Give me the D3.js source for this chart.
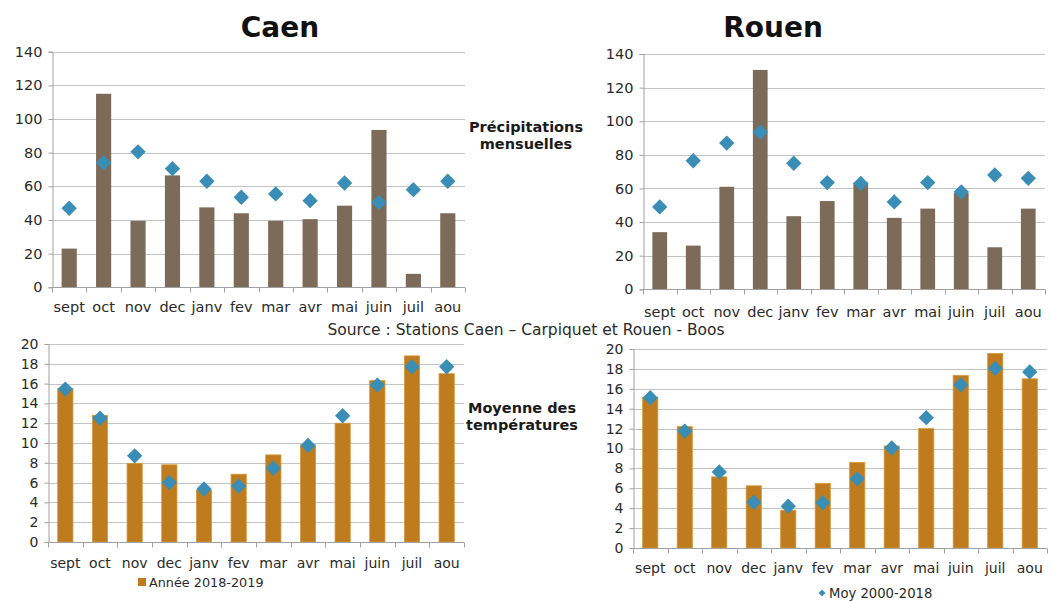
<!DOCTYPE html>
<html>
<head>
<meta charset="utf-8">
<script src="https://cdn.jsdelivr.net/npm/d3@7"></script>
<style>
  html, body { margin: 0; padding: 0; background: #fff; }
  svg { display: block; }
  text { font-family: "DejaVu Sans", Verdana, sans-serif; fill: #2a2a2a; }
</style>
</head>
<body>
<svg id="chart" width="1050" height="601"></svg>
<script>
// Months of the hydrological year (September to August)
const months = ["sept", "oct", "nov", "dec", "janv", "fev", "mar", "avr", "mai", "juin", "juil", "aou"];

// Monthly precipitation (mm)
const caenPrecip2018 = [23, 115, 39.5, 66.5, 47.5, 44, 39.5, 40.5, 48.5, 93.5, 8, 44];
const caenPrecipMoy  = [47, 74, 80.5, 70.5, 63, 53.5, 55.5, 51.5, 62, 50.5, 58, 63];
const rouenPrecip2018 = [34, 26, 61, 130.5, 43.5, 52.5, 63.5, 42.5, 48, 57.5, 25, 48];
const rouenPrecipMoy  = [49, 76.5, 87, 93.5, 75, 63.5, 63, 52, 63.5, 58, 68, 66];

// Monthly mean temperature (°C)
const caenTemp2018 = [15.5, 12.8, 7.95, 7.8, 5.25, 6.85, 8.8, 9.8, 12, 16.3, 18.8, 17];
const caenTempMoy  = [15.45, 12.5, 8.7, 6, 5.35, 5.65, 7.45, 9.75, 12.75, 15.85, 17.7, 17.7];
const rouenTemp2018 = [15.15, 12.2, 7.15, 6.25, 3.8, 6.5, 8.6, 10.25, 12, 17.35, 19.55, 17];
const rouenTempMoy  = [15.1, 11.75, 7.65, 4.6, 4.2, 4.55, 6.95, 10.05, 13.1, 16.4, 18.05, 17.7];

// Axis ticks
const precipTicks = [0, 20, 40, 60, 80, 100, 120, 140];
const tempTicks = [0, 2, 4, 6, 8, 10, 12, 14, 16, 18, 20];

// Labels
const cityTitles = ["Caen", "Rouen"];
const precipLabel = ["Précipitations", "mensuelles"];
const tempLabel = ["Moyenne des", "températures"];
const sourceText = "Source :  Stations Caen – Carpiquet et Rouen - Boos";
const legendBar = "Année 2018-2019";
const legendMoy = "Moy 2000-2018";

const colors = {
  precipBar: "#7d6b5a",
  tempBar: "#bf7c1e",
  tempBarEdge: "#d79a3c",
  diamond: "#3a8db5",
  grid: "#c4c4c4",
  axis: "#a0a0a0"
};

const svg = d3.select("#chart");

function drawPanel(cfg) {
  const g = svg.append("g");
  const x = d3.scaleBand().domain(months).range([cfg.x0, cfg.x1]).paddingInner(0.56).paddingOuter(0.28);
  const y = d3.scaleLinear().domain([0, cfg.max]).range([cfg.yb, cfg.yt]);

  // horizontal gridlines
  g.selectAll("line.grid").data(cfg.ticks.filter(d => d > 0)).join("line")
    .attr("x1", cfg.x0).attr("x2", cfg.x1)
    .attr("y1", d => Math.round(y(d)) + 0.5).attr("y2", d => Math.round(y(d)) + 0.5)
    .attr("stroke", colors.grid).attr("stroke-width", 1.2);

  // y axis
  const yAxis = d3.axisLeft(y).tickValues(cfg.ticks).tickSize(4).tickPadding(6);
  const ya = g.append("g").attr("transform", `translate(${Math.round(cfg.x0) + 0.5},0)`).call(yAxis);
  ya.select(".domain").attr("stroke", colors.axis);
  ya.selectAll(".tick line").attr("stroke", colors.axis);
  ya.selectAll(".tick text").attr("font-size", cfg.fs).attr("fill", "#2a2a2a")
    .attr("font-family", '"DejaVu Sans", Verdana, sans-serif');

  // bars
  g.selectAll("rect.bar").data(cfg.bars).join("rect")
    .attr("x", (d, i) => x(months[i]))
    .attr("width", x.bandwidth())
    .attr("y", d => y(d))
    .attr("height", d => y(0) - y(d))
    .attr("fill", cfg.barColor)
    .attr("stroke", cfg.barEdge || "none")
    .attr("stroke-width", cfg.barEdge ? 0.8 : 0);

  // x axis line with ticks at category boundaries
  const by = Math.round(y(0)) + 0.5;
  g.append("line").attr("x1", cfg.x0).attr("x2", cfg.x1).attr("y1", by).attr("y2", by)
    .attr("stroke", colors.axis);
  const step = (cfg.x1 - cfg.x0) / months.length;
  g.selectAll("line.xt").data(d3.range(months.length + 1)).join("line")
    .attr("x1", i => Math.round(cfg.x0 + i * step) + 0.5)
    .attr("x2", i => Math.round(cfg.x0 + i * step) + 0.5)
    .attr("y1", by).attr("y2", by + 5)
    .attr("stroke", colors.axis);

  // month labels
  g.selectAll("text.xl").data(months).join("text")
    .attr("x", d => x(d) + x.bandwidth() / 2)
    .attr("y", cfg.labelY)
    .attr("text-anchor", "middle")
    .attr("font-size", cfg.fs)
    .text(d => d);

  // 2000-2018 averages as diamonds
  const diamond = d3.symbol().type(d3.symbolDiamond2).size(cfg.dsize);
  g.selectAll("path.moy").data(cfg.moy).join("path")
    .attr("transform", (d, i) => `translate(${x(months[i]) + x.bandwidth() / 2},${y(d)})`)
    .attr("d", diamond)
    .attr("fill", colors.diamond);
}

drawPanel({ x0: 52, x1: 465, yb: 287.3, yt: 51.7, max: 140, ticks: precipTicks,
  bars: caenPrecip2018, moy: caenPrecipMoy, barColor: colors.precipBar, labelY: 312, fs: 14.5, dsize: 150 });
drawPanel({ x0: 643, x1: 1045, yb: 289.3, yt: 54, max: 140, ticks: precipTicks,
  bars: rouenPrecip2018, moy: rouenPrecipMoy, barColor: colors.precipBar, labelY: 317, fs: 14.5, dsize: 150 });
drawPanel({ x0: 48, x1: 464, yb: 542, yt: 344, max: 20, ticks: tempTicks,
  bars: caenTemp2018, moy: caenTempMoy, barColor: colors.tempBar, barEdge: colors.tempBarEdge, labelY: 568, fs: 14, dsize: 150 });
drawPanel({ x0: 633, x1: 1047, yb: 548, yt: 349, max: 20, ticks: tempTicks,
  bars: rouenTemp2018, moy: rouenTempMoy, barColor: colors.tempBar, barEdge: colors.tempBarEdge, labelY: 573, fs: 14, dsize: 150 });

// City titles
svg.selectAll("text.title").data(cityTitles).join("text")
  .attr("x", (d, i) => [280, 773][i])
  .attr("y", 37)
  .attr("text-anchor", "middle")
  .attr("font-family", '"Liberation Sans", Arial, sans-serif')
  .attr("font-weight", "bold")
  .attr("font-size", 28)
  .style("fill", "#111")
  .text(d => d);

// Side labels between the panels
function sideLabel(lines, cx, y0, dy) {
  svg.append("g").selectAll("text").data(lines).join("text")
    .attr("x", cx).attr("y", (d, i) => y0 + i * dy)
    .attr("text-anchor", "middle")
    .attr("font-weight", "bold")
    .attr("font-size", 14.5)
    .style("fill", "#1a1a1a")
    .text(d => d);
}
sideLabel(precipLabel, 526, 132, 17);
sideLabel(tempLabel, 522, 413, 17);

// Source line
svg.append("text").attr("x", 526).attr("y", 335).attr("text-anchor", "middle")
  .attr("font-size", 15.5).text(sourceText);

// Legends
svg.append("rect").attr("x", 138).attr("y", 578).attr("width", 8).attr("height", 8).attr("fill", colors.tempBar);
svg.append("text").attr("x", 149).attr("y", 587).attr("font-size", 12.8).text(legendBar);
svg.append("path").attr("transform", "translate(822,593)")
  .attr("d", d3.symbol().type(d3.symbolDiamond2).size(30)).attr("fill", colors.diamond);
svg.append("text").attr("x", 829).attr("y", 598).attr("font-size", 13.2).text(legendMoy);
</script>
</body>
</html>
